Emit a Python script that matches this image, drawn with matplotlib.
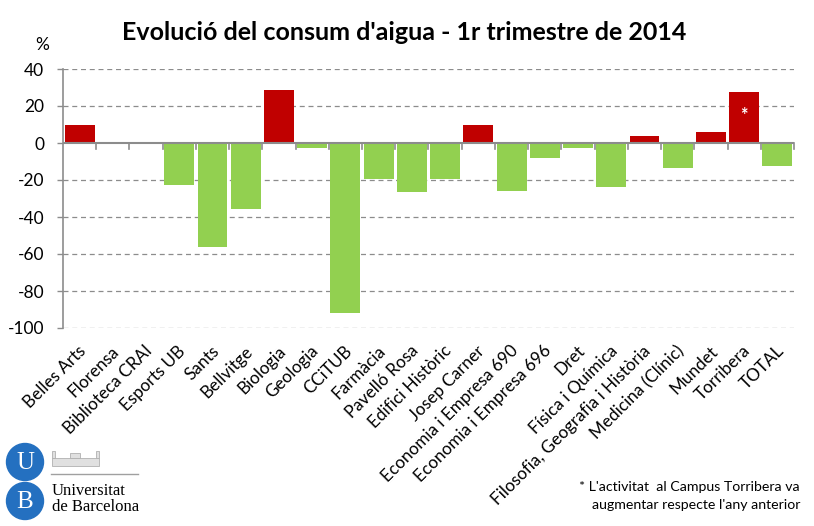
import matplotlib
matplotlib.use("Agg")
import matplotlib.pyplot as plt
from matplotlib.patches import Circle, Rectangle
import numpy as np

categories = ["Belles Arts", "Florensa", "Biblioteca CRAI", "Esports UB", "Sants",
              "Bellvitge", "Biologia", "Geologia", "CCiTUB", "Farmàcia", "Pavelló Rosa",
              "Edifici Històric", "Josep Carner", "Economia i Empresa 690",
              "Economia i Empresa 696", "Dret", "Física i Química",
              "Filosofia, Geografia i Història", "Medicina (Clínic)", "Mundet",
              "Torribera", "TOTAL"]
values = [9.7, 0, 0, -22.7, -56, -35.5, 28.6, -2.5, -92, -19.3, -26.3, -19.3, 9.7,
          -25.8, -7.9, -2.5, -23.6, 3.8, -13.3, 5.9, 27.6, -12.3]
yticks = [40, 20, 0, -20, -40, -60, -80, -100]

RED = "#C00000"
GREEN = "#92D050"
FONT = ["Lato", "DejaVu Sans"]
plt.rcParams['font.family'] = FONT

fig = plt.figure(figsize=(8.14, 5.26), dpi=100)
ax = fig.add_axes([63/814, 1-328/526, (794-63)/814, (328-69)/526])

x = np.arange(len(categories))
colors = [RED if v > 0 else GREEN for v in values]
ax.bar(x, values, width=0.9, color=colors, zorder=3)

ax.set_xlim(-0.5, len(categories)-0.5)
ax.set_ylim(-100, 40)
ax.set_yticks(yticks)
ax.set_yticklabels([str(t) for t in yticks], fontsize=12.5)
for t in yticks:
    if t != 0:
        ax.axhline(t, color="#8c8c8c", lw=0.9, ls=(0, (4, 3)), zorder=1)
ax.axhline(0, color="#8c8c8c", lw=1.5, zorder=4)

for s in ["top", "right", "bottom"]:
    ax.spines[s].set_visible(False)
ax.spines["left"].set_color("#8c8c8c")
ax.spines["left"].set_linewidth(1.2)
ax.tick_params(axis="y", length=4.5, width=1, color="#8c8c8c", pad=9)

# category boundary ticks at zero line
ax.set_xticks([])
for b in np.arange(0.5, len(categories)-0.5+1e-9, 1.0):
    ax.plot([b, b], [0, -3.5], color="#8c8c8c", lw=1.2, zorder=4, clip_on=False)

for xi, lab in zip(x, categories):
    ax.text(xi - 0.05, -108, lab, rotation=45, ha="right", va="top",
            rotation_mode="anchor", fontsize=12.3, color="black")

# asterisk on Torribera
ti = categories.index("Torribera")
ax.text(ti, 15, "*", color="white", ha="center", va="center", fontsize=13, fontweight="bold", zorder=5)

fig.text(404/814, 1-33/526, "Evolució del consum d'aigua - 1r trimestre de 2014",
         ha="center", va="center", fontsize=18, fontweight="bold")
fig.text(42/814, 1-45/526, "%", ha="center", va="center", fontsize=12.5)

fig.text(800/814, 1-487/526, "* L'activitat  al Campus Torribera va", ha="right", va="center", fontsize=10.2)
fig.text(800/814, 1-505/526, "augmentar respecte l'any anterior", ha="right", va="center", fontsize=10.2)

# logo overlay
lg = fig.add_axes([0, 0, 1, 1])
lg.set_xlim(0, 814)
lg.set_ylim(526, 0)
lg.axis("off")
lg.patch.set_visible(False)
blue = "#2470C0"
lg.add_patch(Circle((25, 462), 18.5, color=blue))
lg.add_patch(Circle((25, 501), 18.5, color=blue))
lg.text(25, 463, "U", color="white", ha="center", va="center", fontsize=18, family="Liberation Serif")
lg.text(25, 502, "B", color="white", ha="center", va="center", fontsize=18, family="Liberation Serif")
lg.plot([51, 138], [474, 474], color="#a0a0a0", lw=1)
lg.add_patch(Rectangle((52, 458), 47, 8, facecolor="#e0e0e0", edgecolor="#b0b0b0", lw=0.6))
lg.add_patch(Rectangle((70, 453), 10, 5, facecolor="#e0e0e0", edgecolor="#b0b0b0", lw=0.6))
lg.add_patch(Rectangle((52, 451), 3, 7, facecolor="#e0e0e0", edgecolor="#b0b0b0", lw=0.6))
lg.add_patch(Rectangle((96, 451), 3, 7, facecolor="#e0e0e0", edgecolor="#b0b0b0", lw=0.6))
lg.text(52, 491, "Universitat", ha="left", va="center", fontsize=12, family="Liberation Serif")
lg.text(52, 507, "de Barcelona", ha="left", va="center", fontsize=12, family="Liberation Serif")

fig.savefig("out.png", dpi=100)
